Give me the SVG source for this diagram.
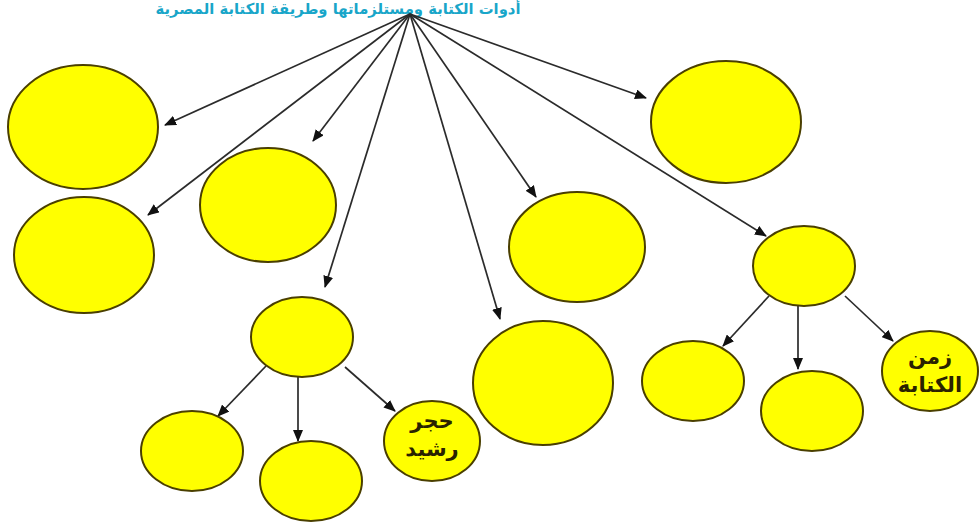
<svg xmlns="http://www.w3.org/2000/svg" width="980" height="525" viewBox="0 0 980 525">
<style>
.n{fill:#ffff00;stroke:#4a3f00;stroke-width:2}
.c line{stroke:#2b2b2b;stroke-width:1.7;marker-end:url(#ah)}
.t{font-family:"DejaVu Sans",sans-serif;font-weight:bold;font-size:21px;fill:#2a2200;text-anchor:middle;direction:rtl}
.h{font-family:"DejaVu Sans",sans-serif;font-weight:bold;font-size:15px;fill:#19a6c9;text-anchor:middle;direction:rtl}
</style>
<defs>
<marker id="ah" markerWidth="12" markerHeight="10" refX="11" refY="5" orient="auto" markerUnits="userSpaceOnUse">
<path d="M0,0 L12,5 L0,10 Z" fill="#111"/>
</marker>
</defs>
<rect width="980" height="525" fill="#fff"/>
<text class="h" x="338" y="14" textLength="365" lengthAdjust="spacingAndGlyphs">أدوات الكتابة ومستلزماتها وطريقة الكتابة المصرية</text>
<g class="c">
<line x1="410" y1="14" x2="165" y2="125"/>
<line x1="410" y1="14" x2="313" y2="141"/>
<line x1="410" y1="14" x2="148" y2="215"/>
<line x1="410" y1="14" x2="325" y2="287"/>
<line x1="410" y1="14" x2="500" y2="319"/>
<line x1="410" y1="14" x2="536" y2="197"/>
<line x1="410" y1="14" x2="646" y2="98"/>
<line x1="410" y1="14" x2="766" y2="236"/>
<line x1="266" y1="366" x2="218" y2="416"/>
<line x1="298" y1="377" x2="298" y2="441"/>
<line x1="345" y1="367" x2="395" y2="411"/>
<line x1="769" y1="296" x2="723" y2="346"/>
<line x1="798" y1="306" x2="798" y2="369"/>
<line x1="845" y1="296" x2="893" y2="341"/>
</g>
<g id="n1"><ellipse class="n" cx="83" cy="127" rx="75" ry="62"/></g>
<g id="n2"><ellipse class="n" cx="84" cy="255" rx="70" ry="58"/></g>
<g id="n3"><ellipse class="n" cx="268" cy="205" rx="68" ry="57"/></g>
<g id="n4"><ellipse class="n" cx="302" cy="337" rx="51" ry="40"/></g>
<g id="n5"><ellipse class="n" cx="192" cy="451" rx="51" ry="40"/></g>
<g id="n6"><ellipse class="n" cx="311" cy="481" rx="51" ry="40"/></g>
<g id="n7"><ellipse class="n" cx="432" cy="441" rx="48" ry="40"/>
<text class="t" x="432" y="428">حجر</text><text class="t" x="432" y="456">رشيد</text></g>
<g id="n8"><ellipse class="n" cx="543" cy="383" rx="70" ry="62"/></g>
<g id="n9"><ellipse class="n" cx="577" cy="247" rx="68" ry="55"/></g>
<g id="n10"><ellipse class="n" cx="726" cy="122" rx="75" ry="61"/></g>
<g id="n11"><ellipse class="n" cx="804" cy="266" rx="51" ry="40"/></g>
<g id="n12"><ellipse class="n" cx="693" cy="381" rx="51" ry="40"/></g>
<g id="n13"><ellipse class="n" cx="812" cy="411" rx="51" ry="40"/></g>
<g id="n14"><ellipse class="n" cx="930" cy="371" rx="48" ry="40"/>
<text class="t" x="930" y="364">زمن</text><text class="t" x="930" y="392">الكتابة</text></g>
</svg>
